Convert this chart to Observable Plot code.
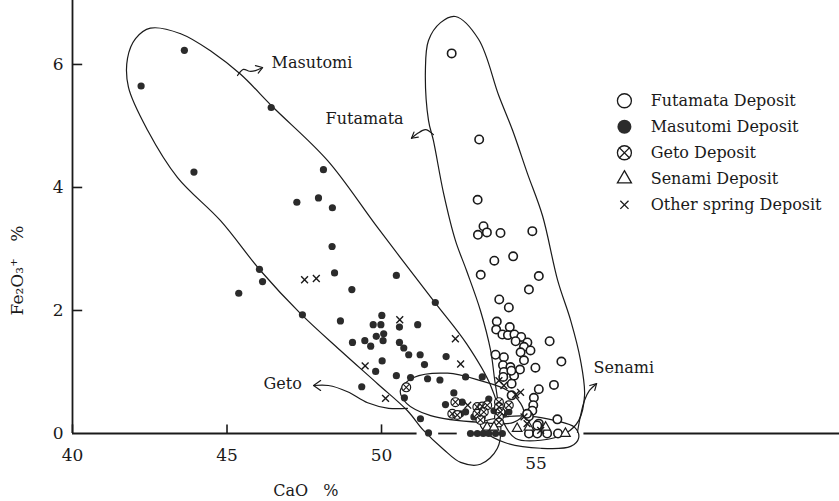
<!DOCTYPE html>
<html><head><meta charset="utf-8">
<script src="https://cdn.jsdelivr.net/npm/d3@7"></script>
<script src="https://cdn.jsdelivr.net/npm/@observablehq/plot@0.6"></script>
<style>body{margin:0;background:#fff}svg{display:block}</style>
</head><body><div id="chart"></div>
<script>
// ---- data: [CaO %, Fe2O3+ %] ----
const futamata = [[52.27,6.18],[53.16,4.78],[53.11,3.80],[53.30,3.37],[53.12,3.23],[53.41,3.27],[53.85,3.26],[54.88,3.29],[53.65,2.81],[54.26,2.88],[53.21,2.58],[55.09,2.56],[54.77,2.34],[53.81,2.18],[54.12,2.05],[53.73,1.82],[53.71,1.69],[53.91,1.61],[54.15,1.73],[54.09,1.60],[54.30,1.61],[54.52,1.57],[54.34,1.50],[54.72,1.48],[54.61,1.41],[54.82,1.35],[54.50,1.32],[54.61,1.19],[55.44,1.50],[53.69,1.28],[53.96,1.24],[53.93,1.11],[54.17,1.08],[54.48,1.04],[55.82,1.17],[53.96,1.00],[54.98,1.07],[55.58,0.79],[55.09,0.72],[54.93,0.58],[54.91,0.46],[54.88,0.37],[54.77,0.28],[55.69,0.23],[54.77,0],[55.04,0],[55.36,0],[55.71,0],[54.29,0.94],[54.21,0.62],[55.09,0.16],[54.71,0.32],[54.20,1.02],[53.94,0.92],[54.21,0.81],[55.04,0.13]];
const masutomi = [[42.22,5.65],[43.62,6.23],[43.93,4.25],[46.43,5.30],[48.12,4.29],[47.26,3.76],[47.96,3.83],[48.41,3.67],[48.40,3.04],[46.05,2.67],[46.15,2.47],[48.48,2.61],[45.38,2.28],[49.04,2.34],[50.48,2.57],[47.44,1.93],[48.67,1.83],[51.74,2.13],[50.01,1.92],[49.73,1.77],[49.98,1.77],[51.17,1.77],[50.58,1.73],[49.83,1.58],[50.07,1.62],[50.05,1.51],[49.06,1.48],[49.46,1.51],[49.65,1.42],[50.58,1.48],[50.72,1.39],[50.88,1.28],[51.25,1.28],[50.02,1.18],[51.39,1.12],[52.09,1.25],[49.81,1.01],[50.48,0.94],[50.94,0.91],[51.49,0.89],[51.89,0.87],[52.72,0.92],[53.26,0.92],[49.36,0.76],[50.74,0.58],[51.26,0.24],[51.52,0.01],[52.88,0],[53.10,0],[53.29,0],[53.47,0],[53.69,0],[53.91,0],[52.34,0.66],[52.07,0.47],[52.61,0.51],[52.56,0.32],[52.72,0.35],[52.99,0.27],[53.26,0.27],[53.47,0.56],[54.12,0.35],[53.96,0.32],[53.64,0.37]];
const geto = [[50.80,0.75],[52.39,0.51],[52.29,0.32],[52.45,0.30],[53.10,0.43],[53.26,0.44],[53.42,0.46],[53.10,0.32],[53.31,0.35],[53.20,0.22],[53.80,0.51],[53.80,0.43],[53.85,0.35],[53.80,0.27],[53.80,0.18],[54.12,0.46]];
const senami = [[53.42,0.10],[53.64,0.10],[54.39,0.08],[54.77,0.10],[55.31,0.10],[55.95,0.0]];
const others = [[47.51,2.50],[47.89,2.52],[50.59,1.85],[49.47,1.10],[50.13,0.57],[52.39,1.54],[52.56,1.13],[52.79,0.46],[53.80,0.86],[53.96,0.78],[54.34,0.63],[54.50,0.67],[54.61,0.27],[54.71,0.16],[55.15,0.05]];

// hand-drawn group outlines (data units)
const outlineMasutomi = [[42.52,6.59],[43.50,6.50],[44.53,6.20],[45.44,5.84],[46.50,5.30],[48.25,4.44],[49.87,3.35],[51.68,2.16],[52.75,1.46],[53.53,0.78],[53.85,0.21],[53.75,-0.24],[53.20,-0.50],[52.56,-0.47],[52.01,-0.26],[51.36,0.05],[50.84,0.37],[49.87,0.81],[48.67,1.35],[47.38,1.95],[46.08,2.65],[44.79,3.46],[43.40,4.16],[42.43,4.93],[41.81,5.63],[41.78,6.10],[42.04,6.42]];
const outlineFutamata = [[52.39,6.78],[53.14,6.41],[53.79,5.50],[54.24,4.93],[54.72,4.23],[55.21,3.54],[55.70,2.49],[56.12,1.84],[56.44,1.19],[56.57,0.62],[56.38,0.21],[55.95,0.0],[55.15,-0.11],[54.34,-0.08],[53.92,0.21],[53.69,0.78],[53.53,1.35],[53.20,2.00],[52.75,2.65],[52.39,3.14],[52.01,3.90],[51.68,4.76],[51.52,5.09],[51.42,5.90],[51.52,6.39],[51.91,6.68]];
const outlineGeto = [[50.61,0.70],[51.04,0.91],[52.14,0.98],[53.20,0.86],[54.08,0.70],[54.50,0.49],[54.60,0.33],[54.27,0.18],[53.20,0.18],[51.59,0.29],[50.81,0.49]];
const outlineSenami = [[53.20,0.16],[53.85,0.26],[54.82,0.28],[55.63,0.21],[56.25,0.10],[56.38,-0.07],[56.12,-0.21],[55.15,-0.24],[54.01,-0.15],[53.37,0.02]];

// label arrows (data units): shaft and head
const arrowMasutomi = [[45.34,5.82],[45.53,5.92],[45.73,5.89],[45.92,5.90],[46.15,5.95]];
const headMasutomi = [[45.92,5.98],[46.15,5.95],[46.01,5.86]];
const arrowFutamata = [[51.68,4.86],[51.42,4.94],[51.17,4.88],[50.97,4.80]];
const headFutamata = [[51.19,4.82],[50.97,4.80],[51.05,4.90]];
const arrowGeto = [[50.84,0.41],[50.23,0.41],[49.55,0.50],[48.90,0.68],[48.28,0.78],[47.80,0.78]];
const headGeto = [[48.03,0.86],[47.80,0.78],[48.03,0.70]];
const arrowSenami = [[56.34,0.02],[56.44,0.29],[56.57,0.54],[56.73,0.70],[56.96,0.81]];
const headSenami = [[56.74,0.78],[56.96,0.81],[56.90,0.70]];

const groupLabels = [
  {text: "Masutomi", x: 46.44, y: 6.03},
  {text: "Futamata", x: 48.19, y: 5.12},
  {text: "Geto", x: 46.18, y: 0.80},
  {text: "Senami", x: 56.86, y: 1.07}
];

const xTicks = [40, 45, 50, 55];
const yTicks = [0, 2, 4, 6];
const xAxisSegments = [[40, 51.15], [51.85, 52.45], [56.55, 64.82]];
const legendLabels = ["Futamata Deposit", "Masutomi Deposit", "Geto Deposit", "Senami Deposit", "Other spring Deposit"];
const xTitle = "CaO\u00a0\u00a0\u00a0%";
const yTitle = "Fe\u2082O\u2083\u207a\u00a0\u00a0\u00a0%";

// ---- layout helpers ----
const legendX = 57.86, legendTextX = 58.71, legendTop = 5.41, legendStep = 0.4228;
const legendRows = legendLabels.map((t, i) => ({t, i, y: legendTop - i * legendStep}));
const X = d => d[0], Y = d => d[1];
const ink = "#1a1a1a";

const chart = Plot.plot({
  width: 839, height: 501,
  marginLeft: 72, marginRight: 0, marginTop: 0, marginBottom: 68,
  x: {domain: [40, 64.82], axis: null},
  y: {domain: [0, 7.04], axis: null},
  style: {fontFamily: "'DejaVu Serif', serif", fontSize: "16px", background: "#fff", color: ink},
  marks: [
    // axes
    Plot.ruleX([40], {stroke: ink, strokeWidth: 1.8}),
    Plot.ruleY(xAxisSegments, {y: 0, x1: d => d[0], x2: d => d[1], stroke: ink, strokeWidth: 1.8}),
    Plot.ruleX(xTicks.filter(d => d < 55), {x: d => d, y1: 0, y2: 0.14, stroke: ink, strokeWidth: 1.6}),
    Plot.ruleY(yTicks.filter(d => d > 0), {y: d => d, x1: 40, x2: 40.33, stroke: ink, strokeWidth: 1.6}),
    Plot.text(xTicks.filter(d => d < 55), {x: d => d, y: 0, dy: 22, text: d => String(d), fontSize: 17}),
    Plot.text(xTicks.filter(d => d >= 55), {x: d => d, y: 0, dy: 30, text: d => String(d), fontSize: 17}),
    Plot.text(yTicks, {x: 40, y: d => d, dx: -9, textAnchor: "end", text: d => String(d), fontSize: 17}),
    Plot.text([xTitle], {x: 47.55, y: -0.93, text: d => d, fontSize: 16}),
    Plot.text([yTitle], {x: 38.22, y: 2.65, rotate: -90, text: d => d, fontSize: 17}),

    // outlines
    ...[outlineMasutomi, outlineFutamata, outlineGeto, outlineSenami].map(o =>
      Plot.line(o, {x: X, y: Y, curve: "catmull-rom-closed", stroke: ink, strokeWidth: 1.2})),
    // arrows
    ...[arrowMasutomi, arrowFutamata, arrowGeto, arrowSenami].map(a =>
      Plot.line(a, {x: X, y: Y, curve: "catmull-rom", stroke: ink, strokeWidth: 1.2})),
    ...[headMasutomi, headFutamata, headGeto, headSenami].map(a =>
      Plot.line(a, {x: X, y: Y, stroke: ink, strokeWidth: 1.2})),
    Plot.text(groupLabels, {x: "x", y: "y", text: "text", textAnchor: "start", fontSize: 16, letterSpacing: 1}),

    // points
    Plot.dot(masutomi, {x: X, y: Y, r: 3.6, fill: "#2b2b2b", stroke: "none"}),
    Plot.dot(futamata, {x: X, y: Y, r: 4.2, fill: "#fff", stroke: ink, strokeWidth: 1.6}),
    Plot.dot(geto, {x: X, y: Y, r: 4.4, fill: "#fff", stroke: ink, strokeWidth: 1.2}),
    Plot.dot(geto, {x: X, y: Y, r: 3.0, symbol: "times", stroke: ink, strokeWidth: 1.1}),
    Plot.dot(senami, {x: X, y: Y, r: 3.6, symbol: "triangle", fill: "#fff", stroke: ink, strokeWidth: 1.2}),
    Plot.dot(others, {x: X, y: Y, r: 3.2, symbol: "times", stroke: ink, strokeWidth: 1.4}),

    // legend
    Plot.dot(legendRows.filter(d => d.i === 0), {x: legendX, y: "y", r: 7, fill: "#fff", stroke: ink, strokeWidth: 1.3}),
    Plot.dot(legendRows.filter(d => d.i === 1), {x: legendX, y: "y", r: 7, fill: "#2b2b2b"}),
    Plot.dot(legendRows.filter(d => d.i === 2), {x: legendX, y: "y", r: 7, fill: "#fff", stroke: ink, strokeWidth: 1.3}),
    Plot.dot(legendRows.filter(d => d.i === 2), {x: legendX, y: "y", r: 5, symbol: "times", stroke: ink, strokeWidth: 1.3}),
    Plot.dot(legendRows.filter(d => d.i === 3), {x: legendX, y: "y", r: 5.2, symbol: "triangle", fill: "none", stroke: ink, strokeWidth: 1.3}),
    Plot.dot(legendRows.filter(d => d.i === 4), {x: legendX, y: "y", r: 3.8, symbol: "times", stroke: ink, strokeWidth: 1.3}),
    Plot.text(legendRows, {x: legendTextX, y: "y", text: "t", textAnchor: "start", fontSize: 16})
  ]
});
document.getElementById("chart").append(chart);
</script>
</body></html>
